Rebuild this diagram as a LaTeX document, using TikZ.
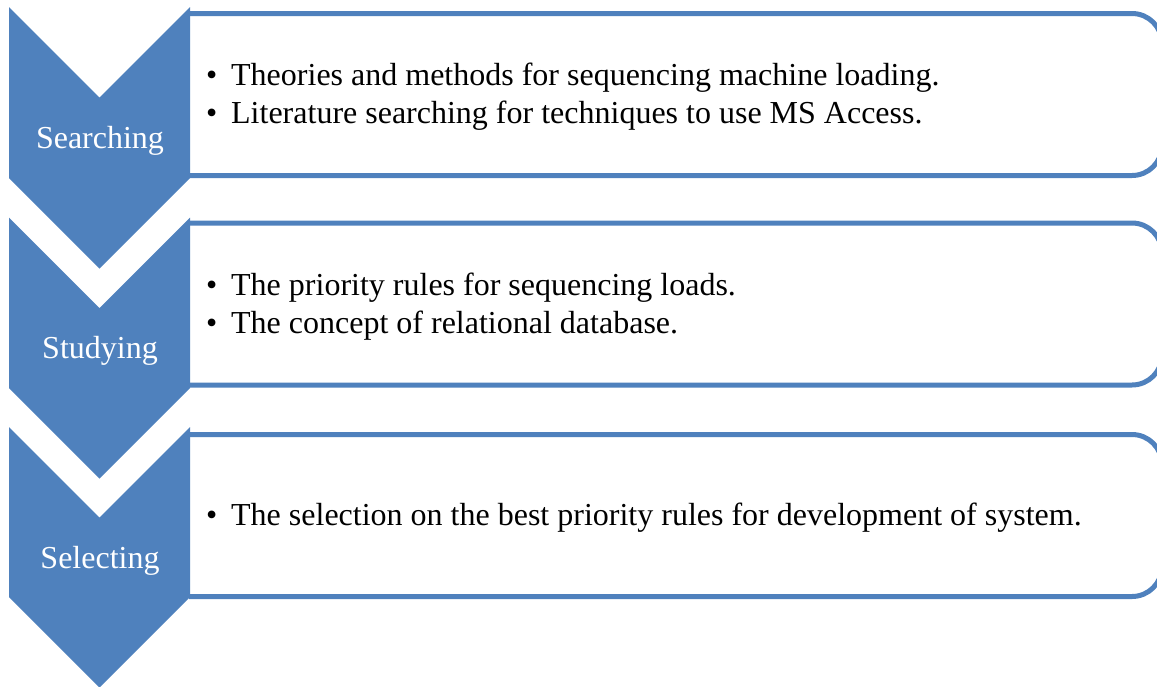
\documentclass[tikz,border=0pt]{standalone}
\usepackage{fontspec}
\setmainfont{Liberation Serif}
\definecolor{blu}{HTML}{4F81BD}
\begin{document}
\begin{tikzpicture}[x=1pt,y=-1pt,
  chev/.style={fill=blu,draw=none},
  boxline/.style={draw=blu,line width=5pt,fill=white,rounded corners=30pt},
  lab/.style={text=white,font=\fontsize{32}{38}\selectfont,anchor=base,inner sep=0pt},
  item/.style={text=black,font=\fontsize{32}{38}\selectfont,anchor=base west,inner sep=0pt}]
\useasboundingbox (0,0) rectangle (1157,686);
\clip (0,0) rectangle (1157,686);
% boxes
\draw[boxline] (189,13.5) -- (1162,13.5) -- (1162,175.5) -- (189,175.5);
\draw[boxline] (189,223) -- (1162,223) -- (1162,385) -- (189,385);
\draw[boxline] (189,434.5) -- (1162,434.5) -- (1162,596.5) -- (189,596.5);
% chevrons
\fill[chev] (9,7) -- (99.5,97.5) -- (190,7) -- (190,178) -- (99.5,268.5) -- (9,178) -- cycle;
\fill[chev] (9,217.5) -- (99.5,308) -- (190,217.5) -- (190,388) -- (99.5,478.5) -- (9,388) -- cycle;
\fill[chev] (9,427) -- (99.5,517.5) -- (190,427) -- (190,597) -- (99.5,687.5) -- (9,597) -- cycle;
% labels
\node[lab] (l1) at (100,148) {Searching};
\node[lab] (l2) at (100,358) {Studying};
\node[lab] (l3) at (100,568) {Selecting};
% items
\node[item] (a1) at (206,85) {\makebox[25pt][l]{\textbullet}Theories and methods for sequencing machine loading.};
\node[item] (a2) at (206,123) {\makebox[25pt][l]{\textbullet}Literature searching for techniques to use MS Access.};
\node[item] (b1) at (206,295) {\makebox[25pt][l]{\textbullet}The priority rules for sequencing loads.};
\node[item] (b2) at (206,333) {\makebox[25pt][l]{\textbullet}The concept of relational database.};
\node[item] (c1) at (206,525) {\makebox[25pt][l]{\textbullet}The selection on the best priority rules for development of system.};
\end{tikzpicture}
\end{document}
